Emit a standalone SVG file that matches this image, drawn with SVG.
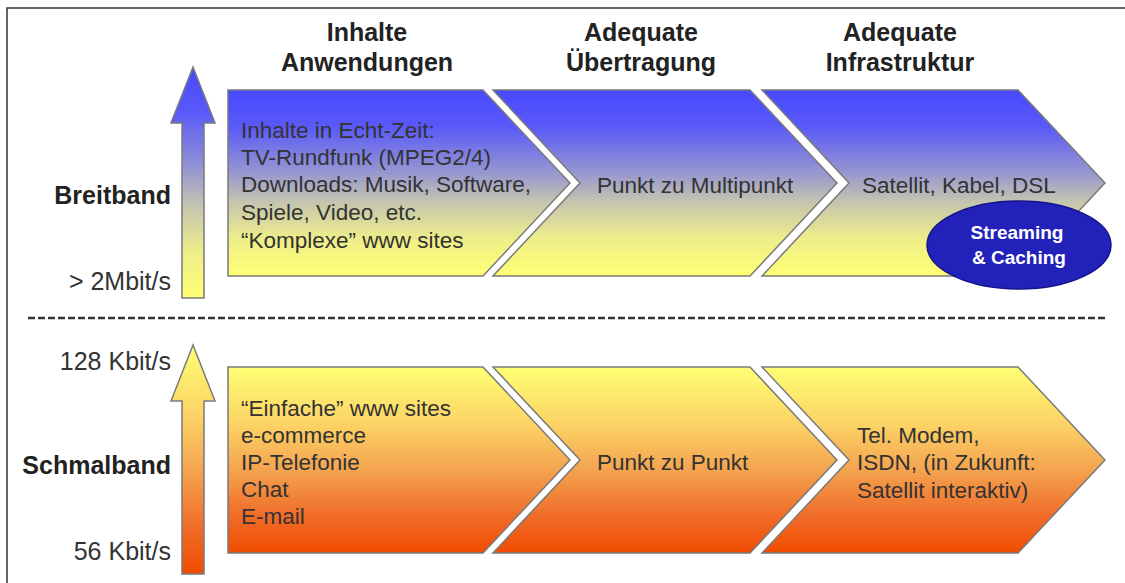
<svg xmlns="http://www.w3.org/2000/svg" width="1125" height="583" viewBox="0 0 1125 583">
<style>
.hd{font-family:"Liberation Sans",Arial,sans-serif;font-weight:bold;font-size:25px;fill:#222;text-anchor:middle}
.side{font-family:"Liberation Sans",Arial,sans-serif;font-weight:bold;font-size:25px;fill:#222;text-anchor:end}
.rate{font-family:"Liberation Sans",Arial,sans-serif;font-size:25px;fill:#333;text-anchor:end}
.tx{font-family:"Liberation Sans",Arial,sans-serif;font-size:22.5px;fill:#333}
.wt{font-family:"Liberation Sans",Arial,sans-serif;font-weight:bold;font-size:19px;fill:#fff;text-anchor:middle}
.cb{stroke:#7a7a7a;stroke-width:1.5}
</style>
<defs>
<linearGradient id="gBlue" x1="0" y1="0" x2="0" y2="1">
<stop offset="0" stop-color="#4848ff"/>
<stop offset="0.2" stop-color="#5a5af8"/>
<stop offset="0.45" stop-color="#9898d0"/>
<stop offset="0.6" stop-color="#c4c4b0"/>
<stop offset="0.8" stop-color="#eeee8a"/>
<stop offset="1" stop-color="#ffff74"/>
</linearGradient>
<linearGradient id="gOrange" x1="0" y1="0" x2="0" y2="1">
<stop offset="0" stop-color="#ffff74"/>
<stop offset="0.3" stop-color="#fcd466"/>
<stop offset="0.55" stop-color="#f4a450"/>
<stop offset="0.8" stop-color="#f06c28"/>
<stop offset="1" stop-color="#f04c00"/>
</linearGradient>
</defs>
<rect width="1125" height="583" fill="#fff"/>
<g id="frame" fill="none" stroke="#333" stroke-width="1.5">
<path d="M7,583 V8 H1125"/>
</g>
<g id="headers">
<text class="hd" x="367" y="41">Inhalte</text>
<text class="hd" x="367" y="71">Anwendungen</text>
<text class="hd" x="641" y="41">Adequate</text>
<text class="hd" x="641" y="71">Übertragung</text>
<text class="hd" x="900" y="41">Adequate</text>
<text class="hd" x="900" y="71">Infrastruktur</text>
</g>
<g id="arrow-breitband">
<path d="M193,67 L215,123 L204,123 L204,298 L182,298 L182,123 L171,123 Z" fill="url(#gBlue)" class="cb"/>
<text class="side" x="171" y="204">Breitband</text>
<text class="rate" x="171" y="290">&gt; 2Mbit/s</text>
</g>
<g id="arrow-schmalband">
<path d="M193,345 L215,401 L204,401 L204,574 L182,574 L182,401 L171,401 Z" fill="url(#gOrange)" class="cb"/>
<text class="rate" x="171" y="370">128 Kbit/s</text>
<text class="side" x="171" y="474">Schmalband</text>
<text class="rate" x="171" y="560">56 Kbit/s</text>
</g>
<g id="upper-inhalte">
<path d="M228,90 H483 L570,183 L483,276 H228 Z" fill="url(#gBlue)" class="cb"/>
<text class="tx" x="241" y="138">Inhalte in Echt-Zeit:</text>
<text class="tx" x="241" y="165">TV-Rundfunk (MPEG2/4)</text>
<text class="tx" x="241" y="192">Downloads: Musik, Software,</text>
<text class="tx" x="241" y="220">Spiele, Video, etc.</text>
<text class="tx" x="241" y="248">“Komplexe” www sites</text>
</g>
<g id="upper-uebertragung">
<path d="M493,90 H750 L837,183 L750,276 H493 L580,183 Z" fill="url(#gBlue)" class="cb"/>
<text class="tx" x="597" y="193">Punkt zu Multipunkt</text>
</g>
<g id="upper-infrastruktur">
<path d="M762,90 H1018 L1105,183 L1018,276 H762 L849,183 Z" fill="url(#gBlue)" class="cb"/>
<text class="tx" x="862" y="193">Satellit, Kabel, DSL</text>
</g>
<g id="streaming">
<ellipse cx="1019" cy="245" rx="92" ry="44" fill="#2222bb" stroke="#14148a" stroke-width="1.5"/>
<text class="wt" x="1017" y="239">Streaming</text>
<text class="wt" x="1019" y="264">&amp; Caching</text>
</g>
<g id="divider">
<line x1="28" y1="318" x2="1105" y2="318" stroke="#333" stroke-width="2.5" stroke-dasharray="7,3"/>
</g>
<g id="lower-inhalte">
<path d="M228,367 H483 L570,460 L483,553 H228 Z" fill="url(#gOrange)" class="cb"/>
<text class="tx" x="241" y="416">“Einfache” www sites</text>
<text class="tx" x="241" y="443">e-commerce</text>
<text class="tx" x="241" y="470">IP-Telefonie</text>
<text class="tx" x="241" y="497">Chat</text>
<text class="tx" x="241" y="524">E-mail</text>
</g>
<g id="lower-uebertragung">
<path d="M493,367 H750 L837,460 L750,553 H493 L580,460 Z" fill="url(#gOrange)" class="cb"/>
<text class="tx" x="597" y="470">Punkt zu Punkt</text>
</g>
<g id="lower-infrastruktur">
<path d="M762,367 H1018 L1105,460 L1018,553 H762 L849,460 Z" fill="url(#gOrange)" class="cb"/>
<text class="tx" x="857" y="443">Tel. Modem,</text>
<text class="tx" x="857" y="470">ISDN, (in Zukunft:</text>
<text class="tx" x="857" y="498">Satellit interaktiv)</text>
</g>
<g id="connectors"></g>
</svg>
